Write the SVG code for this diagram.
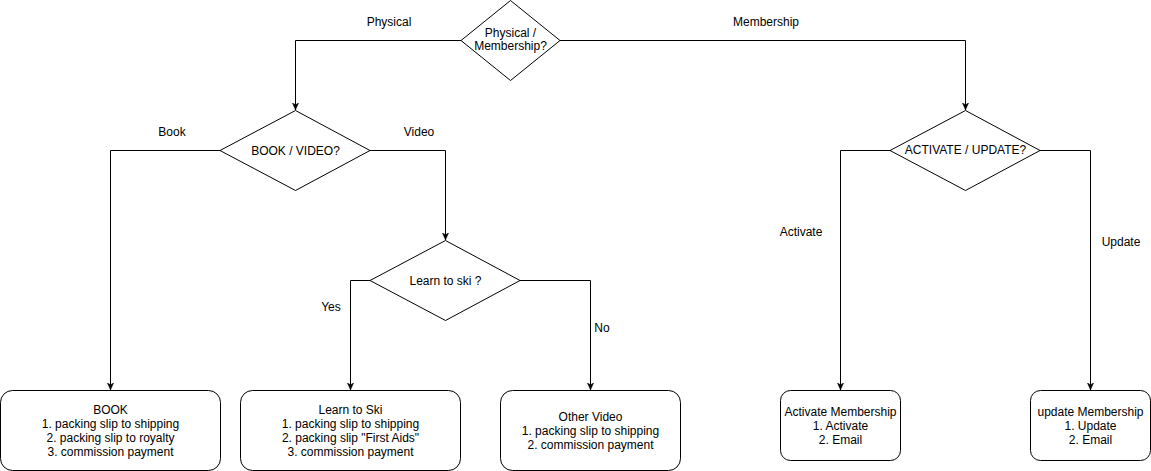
<svg xmlns="http://www.w3.org/2000/svg" width="1151" height="471" viewBox="0 0 1151 471">
<style>
.shape{fill:#fff;stroke:#000;stroke-width:1}
.edge{fill:none;stroke:#000;stroke-width:1}
text{font-family:"Liberation Sans",Arial,sans-serif;font-size:12px;fill:#000;text-anchor:middle}
</style>
<defs>
<marker id="arr" viewBox="0 0 10 10" refX="9" refY="5" markerWidth="8" markerHeight="8" markerUnits="userSpaceOnUse" orient="auto">
<path d="M0,1 L9,5 L0,9 L2.5,5 Z" fill="#000" stroke="#000" stroke-width="0.5"/>
</marker>
</defs>
<rect width="1151" height="471" fill="#fff"/>
<g id="connectors">
<path class="edge" d="M461,40.5 H295.5 V110" marker-end="url(#arr)"/>
<path class="edge" d="M560,40.5 H965.5 V110" marker-end="url(#arr)"/>
<path class="edge" d="M220,150.5 H110.5 V390" marker-end="url(#arr)"/>
<path class="edge" d="M370,150.5 H445.5 V240" marker-end="url(#arr)"/>
<path class="edge" d="M370,280.5 H350.5 V390" marker-end="url(#arr)"/>
<path class="edge" d="M520,280.5 H590.5 V390" marker-end="url(#arr)"/>
<path class="edge" d="M890,150.5 H840.5 V390" marker-end="url(#arr)"/>
<path class="edge" d="M1040,150.5 H1090.5 V390" marker-end="url(#arr)"/>
<text x="389" y="26">Physical</text>
<text x="766" y="26">Membership</text>
<text x="172" y="136">Book</text>
<text x="419" y="136">Video</text>
<text x="331" y="311">Yes</text>
<text x="602" y="332">No</text>
<text x="801" y="236">Activate</text>
<text x="1121" y="246">Update</text>
</g>
<g id="physical-membership">
<polygon class="shape" points="510.5,0.5 560,40.5 510.5,80.5 461,40.5"/>
<text x="510.5" y="36.5">Physical /</text>
<text x="510.5" y="50">Membership?</text>
</g>
<g id="book-video">
<polygon class="shape" points="295.5,110.5 370,150.5 295.5,190.5 220,150.5"/>
<text x="295.5" y="154.5">BOOK / VIDEO?</text>
</g>
<g id="learn-to-ski-q">
<polygon class="shape" points="445.5,240.5 520,280.5 445.5,320.5 370,280.5"/>
<text x="445.5" y="284.5">Learn to ski ?</text>
</g>
<g id="activate-update">
<polygon class="shape" points="965.5,110.5 1040,150.5 965.5,190.5 890,150.5"/>
<text x="965.5" y="153.5">ACTIVATE / UPDATE?</text>
</g>
<g id="book">
<rect class="shape" x="0.5" y="390.5" width="220" height="80" rx="12" ry="12"/>
<text x="110.5" y="414">BOOK</text>
<text x="110.5" y="428">1. packing slip to shipping</text>
<text x="110.5" y="442">2. packing slip to royalty</text>
<text x="110.5" y="456">3. commission payment</text>
</g>
<g id="learn-to-ski">
<rect class="shape" x="240.5" y="390.5" width="220" height="80" rx="12" ry="12"/>
<text x="350.5" y="414">Learn to Ski</text>
<text x="350.5" y="428">1. packing slip to shipping</text>
<text x="350.5" y="442">2. packing slip "First Aids"</text>
<text x="350.5" y="456">3. commission payment</text>
</g>
<g id="other-video">
<rect class="shape" x="500.5" y="390.5" width="180" height="80" rx="12" ry="12"/>
<text x="590.5" y="421">Other Video</text>
<text x="590.5" y="435">1. packing slip to shipping</text>
<text x="590.5" y="449">2. commission payment</text>
</g>
<g id="activate-membership">
<rect class="shape" x="780.5" y="390.5" width="120" height="70" rx="10" ry="10"/>
<text x="840.5" y="416">Activate Membership</text>
<text x="840.5" y="430">1. Activate</text>
<text x="840.5" y="444">2. Email</text>
</g>
<g id="update-membership">
<rect class="shape" x="1030.5" y="390.5" width="120" height="70" rx="10" ry="10"/>
<text x="1090.5" y="416">update Membership</text>
<text x="1090.5" y="430">1. Update</text>
<text x="1090.5" y="444">2. Email</text>
</g>
</svg>
